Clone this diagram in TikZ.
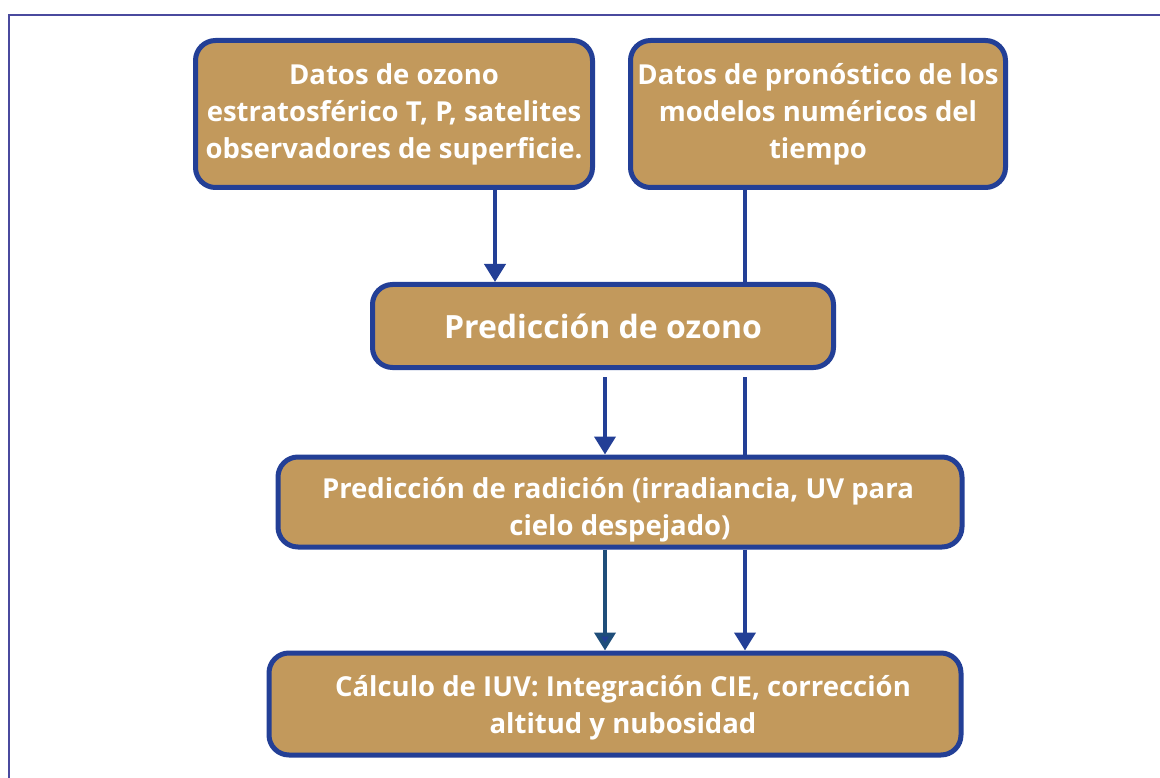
\documentclass[tikz,border=0pt]{standalone}
\usepackage{fontspec}
\setmainfont{Open Sans}
\usetikzlibrary{arrows.meta}
\definecolor{boxfill}{HTML}{C2995C}
\definecolor{boxline}{HTML}{233F96}
\definecolor{framecol}{HTML}{4A4A9E}
\definecolor{tealline}{HTML}{1F4E7A}
\begin{document}
\begin{tikzpicture}[x=1pt,y=-1pt,
  flowbox/.style={draw=boxline, line width=5pt, fill=boxfill, rounded corners=20pt,
    text=white, font=\fontsize{27.5}{37}\selectfont\bfseries, align=center, inner sep=0pt},
  conn/.style={draw=boxline, line width=4pt},
  arr/.style={conn, -{Triangle[width=21pt,length=18pt]}}]
\useasboundingbox (0,0) rectangle (1160,778);
\clip (0,0) rectangle (1160,778);
\draw[framecol, line width=2pt] (9,15) rectangle (1180,800);
\node[flowbox, minimum width=397pt, minimum height=147pt] (A) at (394,114)
  {Datos de ozono\\estratosférico T, P, satelites\\observadores de superficie.};
\node[flowbox, minimum width=375pt, minimum height=147pt] (B) at (818,114)
  {Datos de pronóstico de los\\modelos numéricos del\\tiempo};
\node[flowbox, minimum width=461pt, minimum height=83pt, font=\fontsize{32}{40}\selectfont\bfseries] (C) at (603,326)
  {Predicción de ozono};
\node[flowbox, minimum width=684pt, minimum height=90pt] (D) at (620,502)
  {\raisebox{-14pt}[0pt][0pt]{\begin{tabular}{@{}c@{}}\hspace*{-4pt}Predicción de radición (irradiancia, UV para\\cielo despejado)\end{tabular}}};
\node[flowbox, minimum width=692pt, minimum height=102pt] (E) at (615,704)
  {\raisebox{-10pt}[0pt][0pt]{\begin{tabular}{@{}c@{}}\hspace*{16pt}Cálculo de IUV: Integración CIE, corrección\\\hspace*{16pt}altitud y nubosidad\end{tabular}}};
\coordinate (xa) at (495,0);
\coordinate (xb) at (745,0);
\coordinate (xc) at (605,0);
\coordinate (gap) at (0,377);
\draw[arr] (A.south -| xa) -- (C.north -| xa);
\draw[conn] (B.south -| xb) -- (C.north -| xb);
\draw[arr] (gap -| xc) -- (D.north -| xc);
\draw[conn] (gap -| xb) -- (D.north -| xb);
\draw[arr, draw=tealline, -{Triangle[width=21pt,length=18pt,fill=boxline]}] (D.south -| xc) -- (E.north -| xc);
\draw[arr] (D.south -| xb) -- (E.north -| xb);
\end{tikzpicture}
\end{document}
